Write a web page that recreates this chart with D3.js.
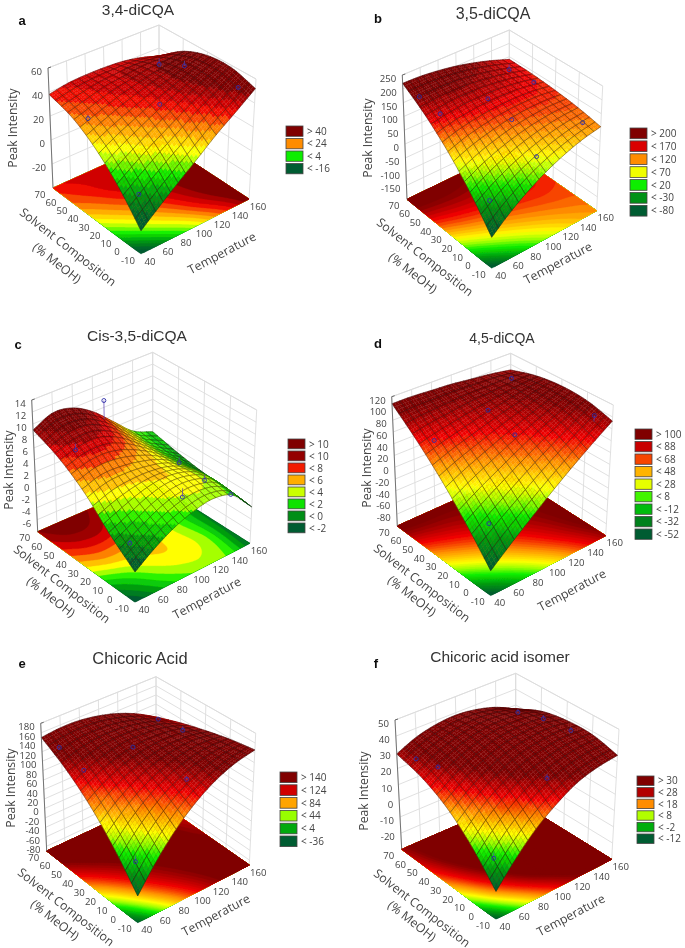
<!DOCTYPE html>
<html>
<head>
<meta charset="utf-8">
<script src="https://cdn.jsdelivr.net/npm/d3@7"></script>
<style>
body { margin: 0; background: white; }
text { font-family: "Open Sans", "Noto Sans", sans-serif; fill: #444; }
</style>
</head>
<body>
<svg id="chart" width="685" height="948"></svg>
<script>
var tempTicks = [40, 60, 80, 100, 120, 140, 160];
var solventTicks = [-10, 0, 10, 20, 30, 40, 50, 60, 70];

var gridTemps = [40, 60, 80, 100, 120, 140, 160];
var gridSolvents = [-10, 10, 30, 50, 70];

var surfaceA = [
    [-22, -10, 2, 14, 27, 39, 52],
    [0, 10.5, 20.5, 30, 40, 49, 58],
    [18, 26, 33, 40, 46, 52, 57],
    [31, 36, 41, 44, 47, 48, 49],
    [38, 41, 42, 42, 41, 38, 33]
];
var surfaceB = [
    [-97, -47, -4, 33, 63, 87, 103],
    [0, 35, 64, 87, 104, 115, 120],
    [85, 107, 122, 133, 138, 138, 131],
    [158, 167, 172, 171, 165, 154, 138],
    [220, 218, 211, 200, 184, 164, 140]
];
var surfaceC = [
    [-3.2, -1, 0.8, 2, 2.5, 1.5, -2],
    [0, 1.5, 3, 3.8, 3.5, 2, -1.5],
    [4, 5, 5, 4.5, 3.5, 1.5, -1.2],
    [7, 8, 8, 6.5, 4, 1.5, -0.5],
    [9, 10.5, 10, 8, 5, 2, 0.5]
];
var surfaceD = [
    [-58, -31, -5, 21, 46, 70, 93],
    [-10, 11, 31, 51, 70, 88, 105],
    [34, 49, 62, 75, 87, 98, 108],
    [73, 81, 87, 93, 97, 101, 103],
    [108, 108, 106, 104, 100, 96, 90]
];
var surfaceE = [
    [-37, 15, 59, 94, 120, 137, 146],
    [23, 62, 94, 117, 132, 139, 138],
    [75, 101, 121, 133, 138, 136, 126],
    [117, 132, 141, 143, 138, 128, 111],
    [150, 154, 153, 146, 134, 116, 92]
];
var surfaceF = [
    [-13, 1, 13, 22, 29, 32.5, 34],
    [4, 16, 25, 32, 36, 38, 38],
    [17, 26, 33, 38, 40, 40.5, 38],
    [25, 32, 37, 40, 40.5, 39, 35],
    [29, 34.5, 37.5, 38.5, 37, 33.5, 27.5]
];

// measured runs: temperature, solvent, peak intensity
var pointsA = [[51, 1, -4], [52, 46, 29], [102, 24, 38], [152, -2, 51], [146, 38, 48], [142, 56, 40]];
var pointsB = [[51, 1, -20], [102, 0, 58], [150, -2, 112], [104, 24, 122], [100, 42, 155], [54, 48, 150], [46, 60, 190], [154, 44, 133], [152, 64, 129]];
var pointsC = [[106, 66, 10], [58, 51, 7], [50, 2, -1], [106, 4, 2], [148, -2, 0], [152, 22, -1], [154, 44, -1]];
var pointsD = [[54, 3, -9], [52, 46, 72], [106, 24, 72], [104, 44, 90], [152, -2, 100], [148, 60, 95]];
var pointsE = [[50, 0, 5], [51, 44, 116], [46, 60, 141], [95, 38, 136], [108, 4, 112], [152, 42, 115], [152, 62, 107]];
var pointsF = [[50, 0, -1], [108, 4, 29], [54, 48, 29], [47, 60, 29.5], [154, 22, 37], [152, 42, 36], [152, 62, 31]];

var zTicksA = [-20, 0, 20, 40, 60];
var zTicksB = [-150, -100, -50, 0, 50, 100, 150, 200, 250];
var zTicksC = [-6, -4, -2, 0, 2, 4, 6, 8, 10, 12, 14];
var zTicksD = [-80, -60, -40, -20, 0, 20, 40, 60, 80, 100, 120];
var zTicksE = [-80, -60, -40, -20, 0, 20, 40, 60, 80, 100, 120, 140, 160, 180];
var zTicksF = [-20, -10, 0, 10, 20, 30, 40, 50];

// legend levels, first one is the "> x" row
var levelsA = [40, 24, 4, -16];
var levelsB = [200, 170, 120, 70, 20, -30, -80];
var levelsC = [10, 10, 8, 6, 4, 2, 0, -2];
var levelsD = [100, 88, 68, 48, 28, 8, -12, -32, -52];
var levelsE = [140, 124, 84, 44, 4, -36];
var levelsF = [30, 28, 18, 8, -2, -12];

var stopFractions = [0, 0.17, 0.33, 0.43, 0.52, 0.68, 0.83, 1];
var stopColors = ["#005c30", "#009a10", "#10f000", "#a0ff00", "#ffff00", "#ff9000", "#f00000", "#800000"];

var panels = [
    { letter: "a", title: "3,4-diCQA", titleSize: 15.5, surface: surfaceA, points: pointsA, zDomain: [-40, 60], zTicks: zTicksA, levels: levelsA,
      colorRange: [-16, 50], bandStep: 4, cells: 15,
      floor: { f: [141, 254], r: [249, 199], l: [53, 188], b: [159, 140] },
      top: { f: [141, 125], r: [256, 79], l: [48, 68], b: [159, 25] },
      temp: [222, 253], solv: [68, 247], meoh: [57, 263], peak: [13, 128], titleAt: [138, 10], letterAt: [22, 20],
      legend: [286, 126, 12.5] },
    { letter: "b", title: "3,5-diCQA", titleSize: 16, surface: surfaceB, points: pointsB, zDomain: [-200, 250], zTicks: zTicksB, levels: levelsB,
      colorRange: [-80, 190], bandStep: 10, cells: 16,
      floor: { f: [491.7, 268.3], r: [596.7, 210.7], l: [407, 199.3], b: [509.3, 150] },
      top: { f: [491.7, 133], r: [602.7, 86], l: [402.3, 75], b: [509.3, 30] },
      temp: [558, 263], solv: [425, 257], meoh: [413, 273], peak: [368, 138], titleAt: [493, 13], letterAt: [378, 18],
      legend: [630, 128, 12.9] },
    { letter: "c", title: "Cis-3,5-diCQA", titleSize: 15.5, surface: surfaceC, points: pointsC, zDomain: [-8, 14], zTicks: zTicksC, levels: levelsC,
      colorRange: [-2.5, 9], bandStep: 1, cells: 19,
      floor: { f: [135, 602.3], r: [250, 543.3], l: [37.7, 531.7], b: [152.7, 481.7] },
      top: { f: [135, 463.3], r: [256.7, 410], l: [31.7, 400], b: [152.7, 352.3] },
      temp: [207, 598], solv: [62, 584], meoh: [51, 597], peak: [9, 470], titleAt: [137, 336], letterAt: [18, 344],
      legend: [288, 439, 12] },
    { letter: "d", title: "4,5-diCQA", titleSize: 14, surface: surfaceD, points: pointsD, zDomain: [-100, 120], zTicks: zTicksD, levels: levelsD,
      colorRange: [-52, 100], bandStep: 4, cells: 15,
      floor: { f: [490.7, 595.7], r: [605.7, 535.7], l: [397.3, 526], b: [510.7, 475] },
      top: { f: [490.7, 465], r: [613.3, 405], l: [391.7, 396.7], b: [510.7, 353.3] },
      temp: [572, 590], solv: [422, 583], meoh: [412, 596], peak: [367, 468], titleAt: [502, 338], letterAt: [378, 343],
      legend: [635, 429, 12.5] },
    { letter: "e", title: "Chicoric Acid", titleSize: 16.5, surface: surfaceE, points: pointsE, zDomain: [-90, 180], zTicks: zTicksE, levels: levelsE,
      colorRange: [-36, 130], bandStep: 4, cells: 15,
      floor: { f: [137.7, 922.7], r: [249.3, 865], l: [46.7, 851], b: [156, 800] },
      top: { f: [137.7, 786.7], r: [255.7, 733.3], l: [40.7, 723.3], b: [156, 676.7] },
      temp: [216, 915], solv: [66, 907], meoh: [55, 920], peak: [11, 788], titleAt: [140, 658], letterAt: [22, 663],
      legend: [280, 772, 12.8] },
    { letter: "f", title: "Chicoric acid isomer", titleSize: 15.5, surface: surfaceF, points: pointsF, zDomain: [-30, 50], zTicks: zTicksF, levels: levelsF,
      colorRange: [-12, 31], bandStep: 1, cells: 15,
      floor: { f: [496, 919.3], r: [611.7, 859.3], l: [401.7, 849.3], b: [515.7, 800] },
      top: { f: [496, 788.3], r: [619, 729.3], l: [395, 720], b: [515.7, 673.3] },
      temp: [571, 915], solv: [422, 908], meoh: [412, 921], peak: [364, 791], titleAt: [500, 657], letterAt: [376, 663],
      legend: [637, 776, 11.6] }
];

var svg = d3.select("#chart");
var defs = svg.append("defs");
defs.append("filter").attr("id", "soft").attr("x", "-5%").attr("y", "-5%").attr("width", "110%").attr("height", "110%")
    .append("feGaussianBlur").attr("stdDeviation", 0.3);
var root = svg.append("g").attr("filter", "url(#soft)");

var tempScale = d3.scaleLinear().domain([40, 160]).range([0, 1]);
var solventScale = d3.scaleLinear().domain([-10, 70]).range([0, 1]);
var tempIndex = d3.scaleLinear().domain(d3.extent(gridTemps)).range([0, gridTemps.length - 1]);
var solventIndex = d3.scaleLinear().domain(d3.extent(gridSolvents)).range([0, gridSolvents.length - 1]);
var pathLine = d3.line();

function lerp(a, b, t) {
    return [a[0] + (b[0] - a[0]) * t, a[1] + (b[1] - a[1]) * t];
}

function spline(a, b, c, d, t) {
    return b + 0.5 * t * (c - a + t * (2 * a - 5 * b + 4 * c - d + t * (3 * b - a - 3 * c + d)));
}

function gridValue(table, row, col) {
    // one step past the edge is continued straight
    var r = Math.max(0, Math.min(table.length - 1, row));
    var c = Math.max(0, Math.min(table[0].length - 1, col));
    var v = table[r][c];
    if (row !== r) v = 2 * v - table[row < 0 ? 1 : r - 1][c];
    if (col !== c) v = 2 * v - table[r][col < 0 ? 1 : c - 1];
    return v;
}

function surfaceAt(table, temp, solvent) {
    var cf = Math.min(tempIndex(temp), gridTemps.length - 1.0001);
    var rf = Math.min(solventIndex(solvent), gridSolvents.length - 1.0001);
    var c = Math.floor(cf), r = Math.floor(rf);
    var rows = [];
    for (var k = -1; k <= 2; k++) {
        rows.push(spline(gridValue(table, r + k, c - 1), gridValue(table, r + k, c),
            gridValue(table, r + k, c + 1), gridValue(table, r + k, c + 2), cf - c));
    }
    return spline(rows[0], rows[1], rows[2], rows[3], rf - r);
}

function colorScale(lo, hi) {
    return d3.scaleLinear()
        .domain(stopFractions.map(function (f) { return lo + f * (hi - lo); }))
        .range(stopColors)
        .clamp(true);
}

function drawPanel(panel) {
    var g = root.append("g").attr("class", "panel-" + panel.letter);
    var zScale = d3.scaleLinear().domain(panel.zDomain).range([0, 1]);
    var color = colorScale(panel.colorRange[0], panel.colorRange[1]);

    function band(v) {
        return color(Math.floor(v / panel.bandStep) * panel.bandStep + panel.bandStep / 2);
    }

    function project(temp, solvent, value) {
        var u = tempScale(temp), v = solventScale(solvent), w = zScale(value);
        var low = lerp(lerp(panel.floor.f, panel.floor.r, u), lerp(panel.floor.l, panel.floor.b, u), v);
        var high = lerp(lerp(panel.top.f, panel.top.r, u), lerp(panel.top.l, panel.top.b, u), v);
        return lerp(low, high, w);
    }

    var zMin = panel.zDomain[0], zMax = panel.zDomain[1];

    // back walls
    var walls = [];
    panel.zTicks.forEach(function (t) {
        walls.push([project(40, 70, t), project(160, 70, t), project(160, -10, t)]);
    });
    tempTicks.forEach(function (t) {
        walls.push([project(t, 70, zMin), project(t, 70, zMax)]);
    });
    solventTicks.filter(function (s) { return s % 20 === 10; }).forEach(function (s) {
        walls.push([project(160, s, zMin), project(160, s, zMax)]);
    });
    walls.push([project(40, 70, zMax), project(160, 70, zMax), project(160, -10, zMax), project(160, -10, zMin)]);
    g.append("g").selectAll("path").data(walls).join("path")
        .attr("d", pathLine).attr("fill", "none").attr("stroke", "#dcdcdc").attr("stroke-width", 0.9);

    // contour map on the floor
    var nx = 121, ny = 81, values = [];
    for (var j = 0; j < ny; j++) {
        for (var i = 0; i < nx; i++) {
            values.push(surfaceAt(panel.surface, 40 + i, -10 + j));
        }
    }
    var thresholds = d3.range(Math.floor(d3.min(values) / panel.bandStep) * panel.bandStep, d3.max(values), panel.bandStep);
    var contours = d3.contours().size([nx, ny]).thresholds(thresholds)(values);
    var floorPath = d3.geoPath(d3.geoTransform({
        point: function (x, y) {
            var t = Math.max(40, Math.min(160, 40 + x - 0.5));
            var s = Math.max(-10, Math.min(70, -10 + y - 0.5));
            var p = project(t, s, zMin);
            this.stream.point(p[0], p[1]);
        }
    }));
    g.append("g").selectAll("path").data(contours).join("path")
        .attr("d", floorPath)
        .attr("fill", function (d) { return band(d.value + panel.bandStep / 2); })
        .attr("stroke", function (d) { return band(d.value + panel.bandStep / 2); })
        .attr("stroke-width", 0.3);

    // surface, painted from the back corner to the front corner
    var n = panel.cells, sub = 3, fine = n * sub, heights = [];
    for (var a = 0; a <= fine; a++) {
        heights[a] = [];
        for (var b = 0; b <= fine; b++) {
            heights[a][b] = surfaceAt(panel.surface, 40 + 120 * a / fine, -10 + 80 * b / fine);
        }
    }
    function node(a, b) {
        return project(40 + 120 * a / fine, -10 + 80 * b / fine, heights[a][b]);
    }
    var shapes = [];
    for (var ci = n - 1; ci >= 0; ci--) {
        for (var cj = n - 1; cj >= 0; cj--) {
            var a0 = ci * sub, b0 = cj * sub, outline = [];
            for (var p = sub - 1; p >= 0; p--) {
                for (var q = sub - 1; q >= 0; q--) {
                    var ia = a0 + p, ib = b0 + q;
                    shapes.push({
                        pts: [node(ia, ib), node(ia + 1, ib), node(ia + 1, ib + 1), node(ia, ib + 1)],
                        fill: band((heights[ia][ib] + heights[ia + 1][ib] + heights[ia + 1][ib + 1] + heights[ia][ib + 1]) / 4)
                    });
                }
            }
            for (var e = 0; e <= sub; e++) outline.push(node(a0 + e, b0));
            for (e = 1; e <= sub; e++) outline.push(node(a0 + sub, b0 + e));
            for (e = 1; e <= sub; e++) outline.push(node(a0 + sub - e, b0 + sub));
            for (e = 1; e <= sub; e++) outline.push(node(a0, b0 + sub - e));
            shapes.push({ pts: outline, fill: null });
        }
    }
    g.append("g").selectAll("path").data(shapes).join("path")
        .attr("d", function (d) { return pathLine(d.pts) + "Z"; })
        .attr("fill", function (d) { return d.fill || "none"; })
        .attr("stroke", function (d) { return d.fill || "#281010"; })
        .attr("stroke-width", function (d) { return d.fill ? 0.3 : 0.55; })
        .attr("stroke-opacity", function (d) { return d.fill ? 1 : 0.7; });

    // measured runs with their stems down to the surface
    var runs = g.append("g");
    runs.selectAll("line").data(panel.points).join("line")
        .attr("x1", function (d) { return project(d[0], d[1], d[2])[0]; })
        .attr("y1", function (d) { return project(d[0], d[1], d[2])[1]; })
        .attr("x2", function (d) { return project(d[0], d[1], surfaceAt(panel.surface, d[0], d[1]))[0]; })
        .attr("y2", function (d) { return project(d[0], d[1], surfaceAt(panel.surface, d[0], d[1]))[1]; })
        .attr("stroke", "#5a40b0").attr("stroke-width", 0.7);
    runs.selectAll("circle").data(panel.points).join("circle")
        .attr("cx", function (d) { return project(d[0], d[1], d[2])[0]; })
        .attr("cy", function (d) { return project(d[0], d[1], d[2])[1]; })
        .attr("r", 2).attr("fill", "none").attr("stroke", "#2c2ca8").attr("stroke-width", 0.9);

    // z axis
    var axisLine = [project(40, 70, zMin), project(40, 70, zMax)];
    g.append("path").attr("d", pathLine(axisLine)).attr("stroke", "#666").attr("stroke-width", 0.9).attr("fill", "none");
    var topTick = project(40, 70, zMax);
    g.append("path").attr("d", pathLine([topTick, [topTick[0] + 3, topTick[1] - 1]])).attr("stroke", "#666").attr("fill", "none");
    g.append("g").selectAll("text").data(panel.zTicks).join("text")
        .attr("x", function (d) { return project(40, 70, d)[0] - 6; })
        .attr("y", function (d) { return project(40, 70, d)[1] + 7; })
        .attr("text-anchor", "end").attr("font-size", 9.6)
        .text(function (d) { return d; });

    // floor tick labels
    g.append("g").selectAll("text").data(tempTicks).join("text")
        .attr("x", function (d) { return project(d, -10, zMin)[0] + 9; })
        .attr("y", function (d) { return project(d, -10, zMin)[1] + 10.5; })
        .attr("text-anchor", "middle").attr("font-size", 9.6)
        .text(function (d) { return d; });
    g.append("g").selectAll("text").data(solventTicks).join("text")
        .attr("x", function (d) { return project(40, d, zMin)[0] - 13; })
        .attr("y", function (d) { return project(40, d, zMin)[1] + 9.5; })
        .attr("text-anchor", "middle").attr("font-size", 9.6)
        .text(function (d) { return d; });

    // titles
    function label(text, at, size, rotate) {
        return g.append("text")
            .attr("transform", "translate(" + at[0] + "," + at[1] + ") rotate(" + rotate + ")")
            .attr("text-anchor", "middle").attr("dy", "0.35em")
            .attr("font-size", size).text(text);
    }
    label("Temperature", panel.temp, 12.3, -28);
    label("Solvent Composition", panel.solv, 12.3, 38);
    label("(% MeOH)", panel.meoh, 12.3, 38);
    label("Peak Intensity", panel.peak, 12.2, -90);
    label(panel.title, panel.titleAt, panel.titleSize, 0)
        .style("font-family", "'Liberation Sans', sans-serif").style("fill", "#333");
    label(panel.letter, panel.letterAt, 13, 0)
        .style("font-family", "'Liberation Sans', sans-serif")
        .style("font-weight", "bold").style("fill", "#111");

    // legend
    var legendX = panel.legend[0], legendY = panel.legend[1], rowH = panel.legend[2];
    var levelLo = d3.min(panel.levels), levelHi = d3.max(panel.levels);
    var legendColor = colorScale(levelLo, levelHi);
    var rows = g.append("g").selectAll("g").data(panel.levels).join("g")
        .attr("transform", function (d, i) { return "translate(" + legendX + "," + (legendY + i * rowH) + ")"; });
    rows.append("rect")
        .attr("width", 17).attr("height", rowH - 2.2)
        .attr("fill", function (d, i) {
            return i === 0 ? stopColors[stopColors.length - 1] : legendColor(d - 0.03 * (levelHi - levelLo));
        })
        .attr("stroke", "#444").attr("stroke-width", 0.8);
    rows.append("text")
        .attr("x", 21).attr("y", rowH / 2 + 2.5).attr("font-size", 10)
        .text(function (d, i) { return (i === 0 ? "> " : "< ") + d; });
}

panels.forEach(drawPanel);
</script>
</body>
</html>
